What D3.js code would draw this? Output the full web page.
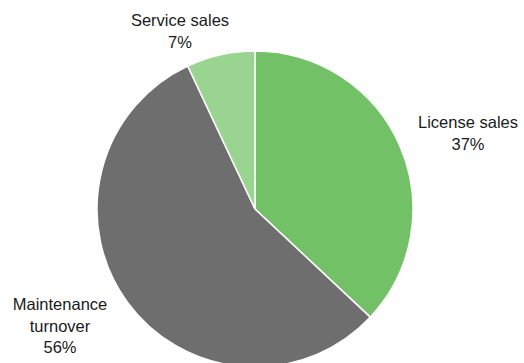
<!DOCTYPE html>
<html>
<head>
<meta charset="utf-8">
<script src="https://d3js.org/d3.v7.min.js"></script>
<style>
  body { margin: 0; background: #fff; }
  svg text { font-family: "Liberation Sans Narrow", "Arial Narrow", "Liberation Sans", Arial, sans-serif; font-size: 16.5px; fill: #1a1a1a; }
</style>
</head>
<body>
<div id="pie"></div>
<script>
  const w = 524, h = 363
  // chart values
  const categories = ["License sales", "Maintenance turnover", "Service sales"]
  const shares = [37, 56, 7]
  const colors = ["#73c167", "#6e6e6e", "#99d591"]
  // label lines and anchor points for each slice
  const labelLines = [["License sales", "37%"], ["Maintenance", "turnover", "56%"], ["Service sales", "7%"]]
  const labelPos = [[468, 128], [60, 310], [180, 26]]

  const cx = 255, cy = 209, r = 158

  const svg = d3.select("#pie").append("svg")
    .attr("width", w)
    .attr("height", h)

  const pie = d3.pie().sort(null).value(d => d)
  const arc = d3.arc().innerRadius(0).outerRadius(r)

  const g = svg.append("g").attr("transform", `translate(${cx},${cy})`)

  g.selectAll("path")
    .data(pie(shares))
    .enter().append("path")
      .attr("d", arc)
      .attr("fill", (d, i) => colors[i])
      .attr("stroke", "#fff")
      .attr("stroke-width", 1.5)

  // labels
  labelLines.forEach((lines, i) => {
    const t = svg.append("text")
      .attr("x", labelPos[i][0])
      .attr("y", labelPos[i][1])
      .attr("text-anchor", "middle")
    lines.forEach((line, j) => {
      t.append("tspan")
        .attr("x", labelPos[i][0])
        .attr("dy", j == 0 ? 0 : 21.5)
        .text(line)
    })
  })
</script>
</body>
</html>
